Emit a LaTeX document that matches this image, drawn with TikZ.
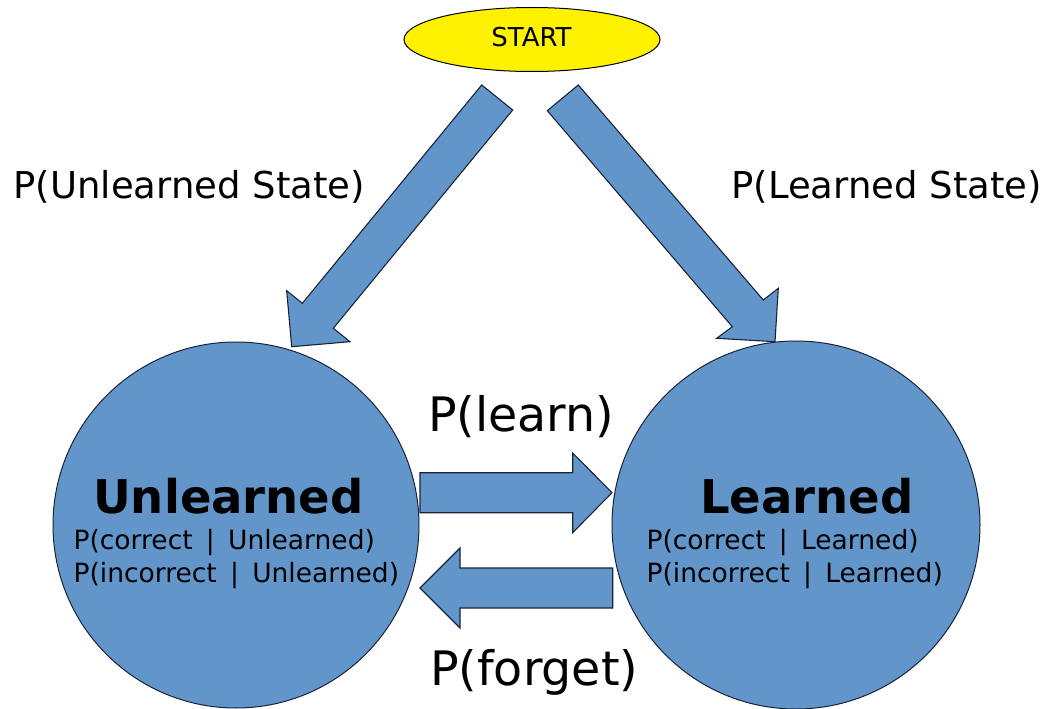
\documentclass[tikz,border=0pt]{standalone}
\usepackage{fontspec}
\setmainfont{DejaVu Sans}
\usepackage{tikz}
\usetikzlibrary{shapes.geometric}
\definecolor{stateblue}{RGB}{98,150,202}
\definecolor{edgedark}{RGB}{25,35,55}
\newcommand{\given}{\enspace|\enspace}
\tikzset{
  statecircle/.style={circle, draw=edgedark, line width=1pt, fill=stateblue, inner sep=0pt},
  blockarrow/.style={draw=edgedark, line width=1.1pt, fill=stateblue, line join=miter},
  biglabel/.style={inner sep=0pt, anchor=base, font=\fontsize{37}{44}\selectfont},
  translabel/.style={inner sep=0pt, anchor=base, font=\fontsize{47.5}{56}\selectfont},
  titlelabel/.style={inner sep=0pt, anchor=base, font=\fontsize{46.5}{55}\selectfont\bfseries},
  condlabel/.style={inner sep=0pt, anchor=base west, font=\fontsize{26.5}{32}\selectfont}
}
\begin{document}
\begin{tikzpicture}[x=1pt,y=-1pt]
				\useasboundingbox (0,0) rectangle (1053,709);
				% start state
				\node[ellipse, draw=black, line width=1pt, fill=yellow, minimum width=256pt, minimum height=64pt, inner sep=0pt] (start) at (532,39.5) {};
				\node[inner sep=0pt, anchor=base, font=\fontsize{26}{31}\selectfont] (starttext) at (531.5,46.7) {START};
				% the two states
				\node[statecircle, minimum size=366pt] (unlearned) at (236,525) {};
				\node[statecircle, minimum size=368pt] (learned) at (796,525) {};
				% block arrows
				\filldraw[blockarrow] (481.7,85) -- (512.7,110) -- (333.3,328.3) -- (350,341.7) -- (291.7,346.7) -- (286.7,290.7) -- (302.3,303.3) -- cycle;
				\filldraw[blockarrow] (578.3,85) -- (547.3,110.7) -- (732.3,326.7) -- (716.7,338.3) -- (775,341.7) -- (778.3,288.3) -- (763.3,300) -- cycle;
				\filldraw[blockarrow] (420,472.7) -- (572.7,472.7) -- (572.7,453) -- (612,492.7) -- (572.7,532.7) -- (572.7,512.7) -- (420,512.7) -- cycle;
				\filldraw[blockarrow] (612.7,568) -- (460,568) -- (460,548) -- (420,588) -- (460,628) -- (460,608) -- (612.7,608) -- cycle;
				% labels
				\node[biglabel] (punl) at (189.2,198.3) {P(Unlearned State)};
				\node[biglabel] (plrn) at (886.7,198.3) {P(Learned State)};
				\node[translabel] (learn) at (521.2,431.7) {P(learn)};
				\node[translabel] (forget) at (534.2,685) {P(forget)};
				% text in the states
				\node[titlelabel] (unltitle) at (228.5,513) {Unlearned};
				\node[condlabel] (unlc) at (73.4,549) {P(correct\given Unlearned)};
				\node[condlabel] (unli) at (73.4,582) {P(incorrect\given Unlearned)};
				\node[titlelabel] (lrntitle) at (807,513) {Learned};
				\node[condlabel] (lrnc) at (646.4,549) {P(correct\given Learned)};
				\node[condlabel] (lrni) at (646.4,582) {P(incorrect\given Learned)};
			\end{tikzpicture}
\end{document}
